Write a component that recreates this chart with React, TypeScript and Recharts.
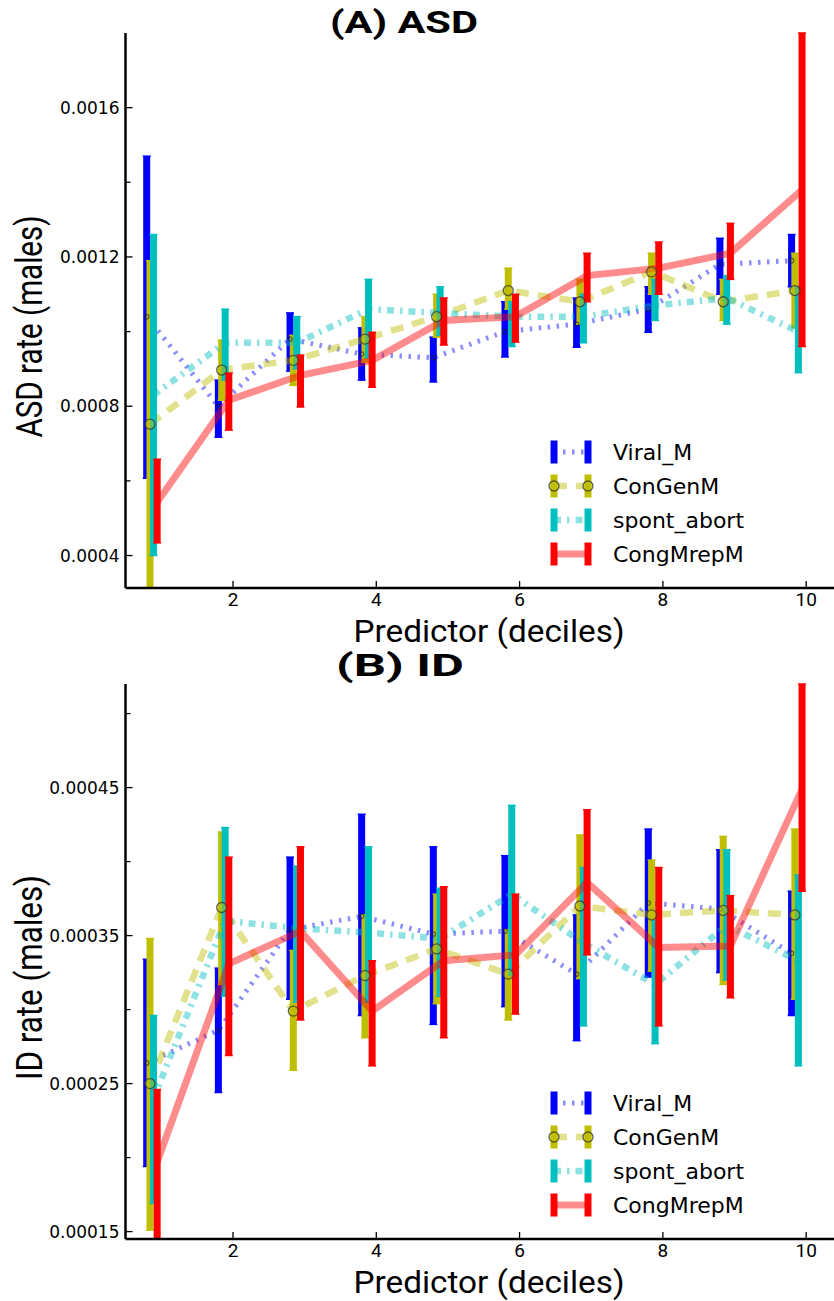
import React from "react";
import { ComposedChart, Line, ErrorBar, XAxis, YAxis, Legend } from "recharts";

const DECILES = [1, 2, 3, 4, 5, 6, 7, 8, 9, 10];
const NAMES = ["Viral_M", "ConGenM", "spont_abort", "CongMrepM"];
const COLORS = ["#0000ff", "#bfbf00", "#00bfbf", "#ff0000"];
// small horizontal dodge so the four bars of a decile sit side by side
const DODGE = [-0.204, -0.158, -0.109, -0.058];

// (A) ASD rate, males
const asdViralMean = [0.00104, 0.0008, 0.00098, 0.00094, 0.00093, 0.001, 0.00102, 0.00106, 0.00118, 0.00119];
const asdViralLow = [0.000607, 0.000717, 0.000894, 0.00087, 0.000865, 0.000932, 0.000958, 0.000998, 0.0011, 0.00112];
const asdViralHigh = [0.00147, 0.00087, 0.00105, 0.00101, 0.000985, 0.00108, 0.00109, 0.00112, 0.00125, 0.00126];

const asdGenMean = [0.000752, 0.000897, 0.000923, 0.00098, 0.00104, 0.00111, 0.00108, 0.00116, 0.00108, 0.00111];
const asdGenLow = [0.000313, 0.000816, 0.000856, 0.000918, 0.000985, 0.00106, 0.00102, 0.0011, 0.00103, 0.00101];
const asdGenHigh = [0.00119, 0.000977, 0.00099, 0.00104, 0.0011, 0.00117, 0.00114, 0.00121, 0.00114, 0.00121];

const asdAbortMean = [0.00083, 0.00097, 0.00097, 0.00106, 0.00105, 0.00104, 0.00104, 0.00107, 0.00109, 0.001];
const asdAbortLow = [0.0004, 0.00087, 0.0009, 0.00093, 0.00099, 0.00096, 0.00097, 0.00103, 0.00102, 0.00089];
const asdAbortHigh = [0.00126, 0.00106, 0.00104, 0.00114, 0.00112, 0.00108, 0.0011, 0.00114, 0.00115, 0.00112];

const asdRepMean = [0.000543, 0.000816, 0.000883, 0.000923, 0.00103, 0.00104, 0.00115, 0.00117, 0.00121, 0.00138];
const asdRepLow = [0.000434, 0.000736, 0.000798, 0.000851, 0.000964, 0.000972, 0.00108, 0.0011, 0.00114, 0.00096];
const asdRepHigh = [0.000658, 0.000889, 0.000937, 0.000998, 0.00109, 0.0011, 0.00121, 0.00124, 0.00129, 0.0018];

// (B) ID rate, males
const idViralMean = [0.000264, 0.000286, 0.000354, 0.000363, 0.000351, 0.000353, 0.000324, 0.000372, 0.000368, 0.000338];
const idViralLow = [0.000194, 0.000244, 0.000307, 0.000296, 0.00029, 0.000302, 0.000279, 0.000322, 0.000325, 0.000296];
const idViralHigh = [0.000334, 0.000328, 0.000403, 0.000432, 0.00041, 0.000404, 0.000364, 0.000422, 0.000408, 0.00038];

const idGenMean = [0.00025, 0.000369, 0.000299, 0.000323, 0.000341, 0.000324, 0.00037, 0.000364, 0.000367, 0.000364];
const idGenLow = [0.000151, 0.000317, 0.000259, 0.000281, 0.000304, 0.000293, 0.000321, 0.000326, 0.000317, 0.000307];
const idGenHigh = [0.000348, 0.00042, 0.00034, 0.000364, 0.000378, 0.000354, 0.000418, 0.000401, 0.000417, 0.000422];

const idAbortMean = [0.00024, 0.00036, 0.000355, 0.000352, 0.000348, 0.000378, 0.000345, 0.000317, 0.000357, 0.000333];
const idAbortLow = [0.000169, 0.000309, 0.000305, 0.000305, 0.000309, 0.000323, 0.000289, 0.000277, 0.00032, 0.000262];
const idAbortHigh = [0.000296, 0.000423, 0.000397, 0.00041, 0.000382, 0.000438, 0.000396, 0.00036, 0.000408, 0.000391];

const idRepMean = [0.000197, 0.000331, 0.000353, 0.000299, 0.000333, 0.000337, 0.000386, 0.000342, 0.000343, 0.000449];
const idRepLow = [0.000145, 0.000269, 0.000293, 0.000262, 0.000281, 0.000297, 0.000337, 0.000289, 0.000308, 0.00038];
const idRepHigh = [0.000246, 0.000403, 0.00041, 0.000333, 0.000383, 0.000378, 0.000435, 0.000396, 0.000377, 0.00052];

const X_TICKS = [2, 4, 6, 8, 10];
const ASD_TICKS = [0.0004, 0.0006, 0.0008, 0.001, 0.0012, 0.0014, 0.0016];
const ASD_LABELED = [0.0004, 0.0008, 0.0012, 0.0016];
const ID_TICKS = [0.00015, 0.0002, 0.00025, 0.0003, 0.00035, 0.0004, 0.00045, 0.0005];
const ID_LABELED = [0.00015, 0.00025, 0.00035, 0.00045];

const STYLES = [
  { dash: "2.5 6.5", width: 5 },
  { dash: "13 9", width: 6.5 },
  { dash: "7 6 2.5 6", width: 6.5 },
  { dash: undefined as string | undefined, width: 7 },
];

const LABEL_FONT = "'Liberation Sans Narrow', Roboto, sans-serif";

function buildRows(i: number, mean: number[], low: number[], high: number[]) {
  return DECILES.map((d, k) => ({
    x: d + DODGE[i],
    y: mean[k],
    err: [mean[k] - low[k], high[k] - mean[k]],
  }));
}

const makeYTick = (labeled: number[], digits: number) => (props: any) => {
  const { x, y, payload } = props;
  const major = labeled.some((v) => Math.abs(v - payload.value) < 1e-9);
  return (
    <g key={`yt-${payload.value}`}>
      <line x1={x} x2={x + (major ? 7 : 5)} y1={y} y2={y} stroke="#000" strokeWidth={1.3} />
      {major && (
        <text x={x - 6} y={y} textAnchor="end" dominantBaseline="central" fontSize={17} fontFamily="'DejaVu Sans', sans-serif" fill="#000">
          {payload.value.toFixed(digits)}
        </text>
      )}
    </g>
  );
};

const XTick = (props: any) => {
  const { x, y, payload } = props;
  return (
    <g key={`xt-${payload.value}`}>
      <line x1={x} x2={x} y1={y} y2={y - 7} stroke="#000" strokeWidth={1.3} />
      <text x={x} y={y + 11} textAnchor="middle" dominantBaseline="central" fontSize={19} fontFamily={LABEL_FONT} fill="#000">
        {payload.value}
      </text>
    </g>
  );
};

function genDot(props: any) {
  const { cx, cy, index } = props;
  if (cx == null || cy == null) return <g key={`g-${index}`} />;
  return <circle key={`g-${index}`} cx={cx} cy={cy} r={5} fill="#bfbf00" fillOpacity={0.45} stroke="#333" strokeOpacity={0.75} strokeWidth={1.3} />;
}

function viralDot(props: any) {
  const { cx, cy, index } = props;
  if (cx == null || cy == null) return <g key={`v-${index}`} />;
  return <circle key={`v-${index}`} cx={cx} cy={cy} r={2.2} fill="none" stroke="#222" strokeOpacity={0.6} strokeWidth={1.2} />;
}

function LegendBox() {
  return (
    <svg width={240} height={140}>
      {NAMES.map((name, i) => {
        const cy = 22 + i * 34;
        const c = COLORS[i];
        const s = STYLES[i];
        return (
          <g key={name}>
            <line x1={14} x2={48} y1={cy} y2={cy} stroke={c} strokeOpacity={0.45} strokeWidth={s.width} strokeDasharray={s.dash} />
            {[14, 48].map((bx) => (
              <g key={bx}>
                <line x1={bx} x2={bx} y1={cy - 11.5} y2={cy + 11.5} stroke={c} strokeWidth={7} />
                {i === 1 && <circle cx={bx} cy={cy} r={5} fill="#bfbf00" fillOpacity={0.45} stroke="#333" strokeOpacity={0.75} strokeWidth={1.3} />}
              </g>
            ))}
            <text x={73} y={cy} dominantBaseline="central" fontSize={22} fontFamily="'DejaVu Sans', sans-serif" fill="#000">
              {name}
            </text>
          </g>
        );
      })}
    </svg>
  );
}

type PanelProps = {
  top: number;
  means: number[][];
  lows: number[][];
  highs: number[][];
  domain: [number, number];
  ticks: number[];
  labeled: number[];
  digits: number;
  yLabel: string;
  yLabelLen: number;
};

function Panel({ top, means, lows, highs, domain, ticks, labeled, digits, yLabel, yLabelLen }: PanelProps) {
  return (
    <div style={{ position: "absolute", left: 0, top }}>
      <ComposedChart width={834} height={650} margin={{ top: 33, right: 0, bottom: 0, left: 0 }}>
        <XAxis
          type="number"
          dataKey="x"
          domain={[0.5, 10.388]}
          allowDataOverflow
          ticks={X_TICKS}
          tickSize={0}
          tickMargin={0}
          tick={XTick}
          height={62}
          axisLine={{ stroke: "#000", strokeWidth: 2.5 }}
          label={(p: any) => (
            <text x={489} y={p.viewBox.y + 43} textAnchor="middle" dominantBaseline="central" fontSize={32} fontFamily={LABEL_FONT} textLength={271} lengthAdjust="spacingAndGlyphs" fill="#000">
              Predictor (deciles)
            </text>
          )}
        />
        <YAxis
          type="number"
          domain={domain}
          allowDataOverflow
          ticks={ticks}
          interval={0}
          tickSize={0}
          tickMargin={0}
          tick={makeYTick(labeled, digits)}
          width={125.5}
          axisLine={{ stroke: "#000", strokeWidth: 2.5 }}
          label={(p: any) => {
            const cy = p.viewBox.y + p.viewBox.height / 2 + 16;
            return (
              <text x={30} y={cy} transform={`rotate(-90 30 ${cy})`} textAnchor="middle" dominantBaseline="central" fontSize={36} fontFamily={LABEL_FONT} textLength={yLabelLen} lengthAdjust="spacingAndGlyphs" fill="#000">
                {yLabel}
              </text>
            );
          }}
        />
        {NAMES.map((name, i) => (
          <Line
            key={name}
            name={name}
            type="linear"
            data={buildRows(i, means[i], lows[i], highs[i])}
            dataKey="y"
            stroke={COLORS[i]}
            strokeOpacity={0.45}
            strokeWidth={STYLES[i].width}
            strokeDasharray={STYLES[i].dash}
            dot={i === 1 ? genDot : i === 0 ? viralDot : false}
            activeDot={false}
            legendType="none"
            isAnimationActive={false}
          >
            <ErrorBar dataKey="err" direction="y" width={0} strokeWidth={7} stroke={COLORS[i]} isAnimationActive={false} />
            <ErrorBar dataKey="err" direction="y" width={4} strokeWidth={1.5} stroke={COLORS[i]} isAnimationActive={false} />
          </Line>
        ))}
        <Legend
          layout="vertical"
          align="center"
          verticalAlign="middle"
          content={() => <LegendBox />}
          wrapperStyle={{ left: 540, top: 430, width: 240, height: 140 }}
        />
      </ComposedChart>
    </div>
  );
}

export default function App() {
  return (
    <div style={{ position: "fixed", left: 0, top: 0, width: 834, height: 1301, overflow: "hidden", background: "#fff" }}>
      <Panel
        top={0}
        means={[asdViralMean, asdGenMean, asdAbortMean, asdRepMean]}
        lows={[asdViralLow, asdGenLow, asdAbortLow, asdRepLow]}
        highs={[asdViralHigh, asdGenHigh, asdAbortHigh, asdRepHigh]}
        domain={[0.000313, 0.0018]}
        ticks={ASD_TICKS}
        labeled={ASD_LABELED}
        digits={4}
        yLabel="ASD rate (males)"
        yLabelLen={222}
      />
      <Panel
        top={651}
        means={[idViralMean, idGenMean, idAbortMean, idRepMean]}
        lows={[idViralLow, idGenLow, idAbortLow, idRepLow]}
        highs={[idViralHigh, idGenHigh, idAbortHigh, idRepHigh]}
        domain={[0.000145, 0.00052]}
        ticks={ID_TICKS}
        labeled={ID_LABELED}
        digits={5}
        yLabel="ID rate (males)"
        yLabelLen={205}
      />
      <svg width={834} height={1301} style={{ position: "absolute", left: 0, top: 0, pointerEvents: "none" }}>
        <text x={404} y={22} textAnchor="middle" dominantBaseline="central" fontSize={31} fontWeight="bold" fontFamily="Roboto, sans-serif" textLength={148} lengthAdjust="spacingAndGlyphs">
          (A) ASD
        </text>
        <text x={400} y={665} textAnchor="middle" dominantBaseline="central" fontSize={31} fontWeight="bold" fontFamily="Roboto, sans-serif" textLength={128} lengthAdjust="spacingAndGlyphs">
          (B) ID
        </text>
      </svg>
    </div>
  );
}
